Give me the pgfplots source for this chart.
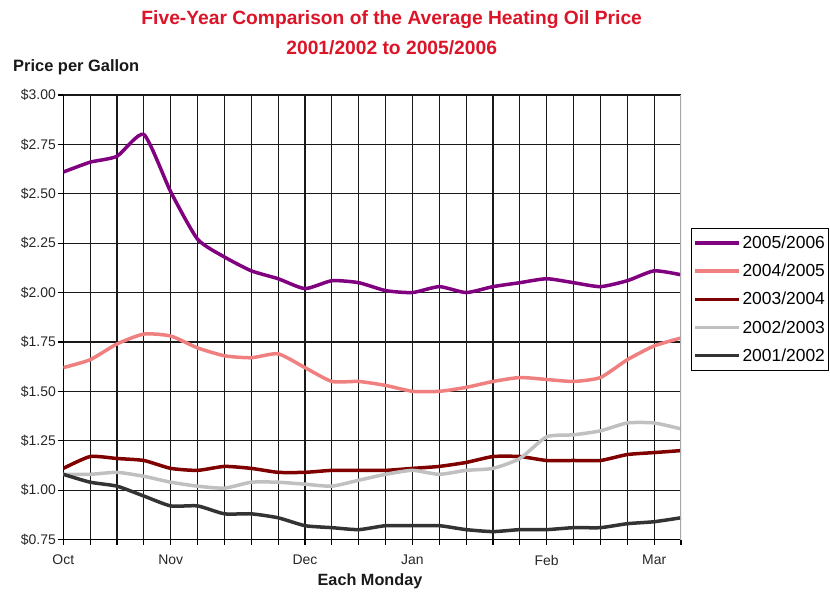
\documentclass[border=0pt]{standalone}
\usepackage{fontspec}
\setmainfont{Liberation Sans}
\usepackage{pgfplots}
\pgfplotsset{compat=1.18}
\definecolor{ttl}{RGB}{220,20,40}
\definecolor{cA}{RGB}{128,0,128}
\definecolor{cB}{RGB}{240,128,128}
\definecolor{cC}{RGB}{128,0,0}
\definecolor{cD}{RGB}{192,192,192}
\definecolor{cE}{RGB}{51,51,51}
\begin{document}
\begin{tikzpicture}
\path[use as bounding box] (0,0) rectangle (830bp,-592bp);
\begin{axis}[
  at={(63.3bp,-539.5bp)}, anchor=south west,
  scale only axis, width=617.7bp, height=444.5bp,
  xmin=0, xmax=23, ymin=0.75, ymax=3,
  axis x line*=bottom, axis y line*=left,
  axis line style={black, line width=1.2bp},
  xtick={0,...,22},
  xticklabels={Oct,,,,Nov,,,,,Dec,,,,Jan,,,,,Feb,,,,Mar},
  extra x ticks={23}, extra x tick labels={}, extra x tick style={grid=none},
  ytick={0.75,1.00,1.25,1.50,1.75,2.00,2.25,2.50,2.75,3.00},
  yticklabels={\$0.75,\$1.00,\$1.25,\$1.50,\$1.75,\$2.00,\$2.25,\$2.50,\$2.75,\$3.00},
  grid=major, grid style={black!90, line width=1.2bp},
  tick align=outside, major tick length=5bp,
  tick style={black, line width=1.2bp},
  ticklabel style={font=\fontsize{14}{16}\selectfont, text=black!85},
  xticklabel style={yshift=-7bp},
  yticklabel style={xshift=1bp},
  legend cell align=left,
  legend style={at={(1,0.7008)}, anchor=north west, xshift=10bp,
    draw=black, line width=1bp, font=\fontsize{17.5}{20}\selectfont,
    inner xsep=2bp, inner ysep=6bp, nodes={inner sep=1.5bp}, row sep=11bp},
  legend image code/.code={\draw[#1] (0bp,0bp) -- (44bp,0bp);},
  every axis plot/.append style={line width=3.5bp, smooth, tension=0.35},
]
\addplot[cA] coordinates {(0,2.61)(1,2.66)(2,2.69)(3,2.80)(4,2.51)(5,2.27)(6,2.18)(7,2.11)(8,2.07)(9,2.02)(10,2.06)(11,2.05)(12,2.01)(13,2.00)(14,2.03)(15,2.00)(16,2.03)(17,2.05)(18,2.07)(19,2.05)(20,2.03)(21,2.06)(22,2.11)(23,2.09)};
\addlegendentry{2005/2006}
\addplot[cB] coordinates {(0,1.62)(1,1.66)(2,1.74)(3,1.79)(4,1.78)(5,1.72)(6,1.68)(7,1.67)(8,1.69)(9,1.62)(10,1.55)(11,1.55)(12,1.53)(13,1.50)(14,1.50)(15,1.52)(16,1.55)(17,1.57)(18,1.56)(19,1.55)(20,1.57)(21,1.66)(22,1.73)(23,1.77)};
\addlegendentry{2004/2005}
\addplot[cC] coordinates {(0,1.11)(1,1.17)(2,1.16)(3,1.15)(4,1.11)(5,1.10)(6,1.12)(7,1.11)(8,1.09)(9,1.09)(10,1.10)(11,1.10)(12,1.10)(13,1.11)(14,1.12)(15,1.14)(16,1.17)(17,1.17)(18,1.15)(19,1.15)(20,1.15)(21,1.18)(22,1.19)(23,1.20)};
\addlegendentry{2003/2004}
\addplot[cD] coordinates {(0,1.08)(1,1.08)(2,1.09)(3,1.07)(4,1.04)(5,1.02)(6,1.01)(7,1.04)(8,1.04)(9,1.03)(10,1.02)(11,1.05)(12,1.08)(13,1.10)(14,1.08)(15,1.10)(16,1.11)(17,1.16)(18,1.27)(19,1.28)(20,1.30)(21,1.34)(22,1.34)(23,1.31)};
\addlegendentry{2002/2003}
\addplot[cE] coordinates {(0,1.08)(1,1.04)(2,1.02)(3,0.97)(4,0.92)(5,0.92)(6,0.88)(7,0.88)(8,0.86)(9,0.82)(10,0.81)(11,0.80)(12,0.82)(13,0.82)(14,0.82)(15,0.80)(16,0.79)(17,0.80)(18,0.80)(19,0.81)(20,0.81)(21,0.83)(22,0.84)(23,0.86)};
\addlegendentry{2001/2002}
\draw[gray!70, line width=1.2bp] (rel axis cs:1,0) -- (rel axis cs:1,1);
\end{axis}
\node[font=\fontsize{19.3}{22}\selectfont\bfseries, text=ttl] at (391.7bp,-20bp) {Five-Year Comparison of the Average Heating Oil Price};
\node[font=\fontsize{19.3}{22}\selectfont\bfseries, text=ttl] at (391.7bp,-48bp) {2001/2002 to 2005/2006};
\node[anchor=west, inner sep=0pt, font=\fontsize{16.5}{18}\selectfont\bfseries, text=black!90] at (13bp,-67.5bp) {Price per Gallon};
\node[font=\fontsize{16.3}{18}\selectfont\bfseries, text=black!90] at (370bp,-581bp) {Each Monday};
\end{tikzpicture}
\end{document}
